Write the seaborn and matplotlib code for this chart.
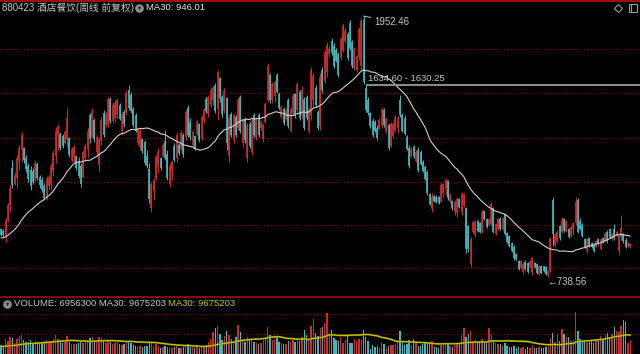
import numpy as np
import pandas as pd
import matplotlib
matplotlib.use("Agg")
import matplotlib.pyplot as plt
import seaborn as sns
from matplotlib.lines import Line2D

# ---------------- data (weekly candles) ----------------
opens = [962, 955, 930, 1005, 1075, 1245, 1170, 1200, 1280, 1330,
         1340, 1290, 1255, 1235, 1230, 1190, 1265, 1205, 1190, 1160,
         1105, 1160, 1165, 1230, 1300, 1400, 1405, 1395, 1360, 1380,
         1385, 1285, 1290, 1300, 1280, 1255, 1205, 1290, 1330, 1490,
         1390, 1470, 1320, 1260, 1370, 1500, 1445, 1450, 1565, 1465,
         1480, 1490, 1540, 1420, 1505, 1500, 1610, 1585, 1520, 1490,
         1360, 1345, 1380, 1365, 1300, 1240, 1060, 1140, 1195, 1260,
         1290, 1300, 1370, 1310, 1170, 1230, 1350, 1290, 1355, 1335,
         1400, 1390, 1525, 1460, 1355, 1395, 1405, 1450, 1385, 1465,
         1565, 1495, 1540, 1560, 1625, 1520, 1665, 1575, 1510, 1570,
         1300, 1495, 1375, 1485, 1430, 1575, 1360, 1475, 1290, 1450,
         1320, 1490, 1390, 1490, 1430, 1380, 1460, 1560, 1680, 1560,
         1580, 1680, 1590, 1485, 1520, 1475, 1560, 1420, 1500, 1590,
         1515, 1600, 1490, 1565, 1575, 1415, 1490, 1560, 1620, 1505,
         1440, 1700, 1650, 1690, 1775, 1835, 1815, 1795, 1775, 1755,
         1795, 1835, 1870, 1920, 1830, 1710, 1700, 1760, 1720, 1935,
         1620, 1560, 1500, 1465, 1460, 1430, 1425, 1440, 1515, 1415,
         1445, 1350, 1395, 1420, 1430, 1560, 1490, 1480, 1390, 1340,
         1300, 1345, 1280, 1330, 1320, 1275, 1250, 1225, 1125, 1055,
         1115, 1112, 1110, 1090, 1130, 1150, 1185, 1090, 1092, 1040,
         1035, 1100, 1040, 1075, 1060, 975, 800, 950, 935, 998,
         990, 950, 1045, 1008, 980, 985, 1060, 940, 962, 1010,
         962, 1030, 945, 930, 898, 880, 845, 815, 782, 760,
         810, 805, 785, 760, 805, 800, 752, 790, 788, 786,
         750, 768, 1095, 890, 905, 975, 950, 1008, 955, 962,
         930, 960, 990, 1095, 1000, 980, 915, 860, 920, 898,
         890, 880, 915, 870, 920, 905, 950, 960, 915, 960,
         928, 860, 925, 940, 912, 882, 878]

highs = [967, 962, 1013, 1083, 1167, 1283, 1227, 1306, 1353, 1413,
         1343, 1306, 1269, 1255, 1246, 1283, 1274, 1213, 1204, 1176,
         1209, 1213, 1269, 1329, 1436, 1450, 1413, 1404, 1422, 1525,
         1390, 1343, 1353, 1306, 1297, 1269, 1329, 1362, 1432, 1502,
         1525, 1478, 1399, 1390, 1483, 1515, 1506, 1576, 1576, 1553,
         1562, 1571, 1548, 1506, 1515, 1608, 1632, 1599, 1529, 1502,
         1432, 1432, 1385, 1376, 1329, 1269, 1181, 1199, 1306, 1339,
         1297, 1362, 1422, 1329, 1269, 1283, 1362, 1409, 1362, 1422,
         1409, 1515, 1539, 1478, 1422, 1399, 1469, 1455, 1492, 1525,
         1576, 1585, 1622, 1632, 1641, 1702, 1669, 1585, 1618, 1576,
         1492, 1506, 1502, 1492, 1571, 1585, 1478, 1483, 1455, 1460,
         1483, 1502, 1483, 1502, 1469, 1455, 1553, 1734, 1688, 1646,
         1655, 1688, 1599, 1539, 1529, 1525, 1571, 1529, 1595, 1595,
         1646, 1608, 1625, 1576, 1585, 1529, 1715, 1688, 1632, 1515,
         1688, 1715, 1795, 1832, 1813, 1850, 1827, 1804, 1785, 1855,
         1920, 1897, 1878, 1934, 1841, 1808, 1771, 1901, 1943, 1952.46,
         1630.25, 1576, 1506, 1478, 1469, 1446, 1478, 1529, 1525, 1483,
         1455, 1460, 1460, 1492, 1492, 1585, 1502, 1492, 1399, 1353,
         1343, 1353, 1329, 1343, 1329, 1283, 1260, 1236, 1130, 1130,
         1120, 1120, 1116, 1176, 1176, 1199, 1190, 1130, 1097, 1097,
         1111, 1106, 1134, 1130, 1064, 981, 925, 1004, 1004, 1004,
         995, 1050, 1050, 1013, 1013, 1088, 1064, 990, 1013, 1018,
         1018, 1037, 948, 934, 902, 888, 851, 818, 818, 809,
         818, 809, 818, 832, 809, 804, 795, 795, 790, 790,
         771, 925, 1111, 944, 957, 981, 1018, 1013, 1004, 967,
         976, 995, 1111, 1106, 1013, 990, 920, 920, 925, 902,
         897, 911, 920, 920, 925, 948, 957, 967, 944, 986,
         957, 934, 1027, 944, 920, 902, 897]

lows = [930, 925, 902, 995, 1041, 1153, 1167, 1153, 1236, 1273,
        1269, 1227, 1181, 1143, 1171, 1185, 1190, 1153, 1134, 1097,
        1097, 1143, 1143, 1209, 1269, 1329, 1329, 1339, 1357, 1343,
        1297, 1274, 1274, 1236, 1199, 1157, 1199, 1283, 1297, 1362,
        1385, 1367, 1306, 1227, 1353, 1390, 1436, 1436, 1455, 1455,
        1460, 1478, 1469, 1399, 1436, 1492, 1515, 1502, 1436, 1413,
        1353, 1329, 1316, 1260, 1246, 1083, 1041, 1097, 1190, 1223,
        1236, 1297, 1283, 1190, 1157, 1190, 1274, 1274, 1306, 1329,
        1297, 1376, 1390, 1376, 1343, 1329, 1399, 1367, 1376, 1455,
        1502, 1483, 1529, 1539, 1502, 1469, 1553, 1483, 1502, 1329,
        1274, 1390, 1362, 1390, 1422, 1409, 1343, 1362, 1274, 1339,
        1306, 1390, 1376, 1390, 1422, 1367, 1455, 1553, 1548, 1548,
        1553, 1595, 1515, 1478, 1446, 1469, 1432, 1413, 1492, 1478,
        1506, 1469, 1480, 1422, 1469, 1409, 1469, 1529, 1529, 1422,
        1422, 1595, 1641, 1669, 1762, 1771, 1711, 1739, 1669, 1748,
        1785, 1827, 1748, 1795, 1711, 1702, 1692, 1748, 1702, 1634.60,
        1506, 1492, 1432, 1390, 1413, 1376, 1422, 1432, 1436, 1409,
        1329, 1343, 1385, 1413, 1409, 1483, 1413, 1399, 1329, 1246,
        1297, 1292, 1274, 1227, 1260, 1227, 1190, 1120, 1074, 1041,
        1088, 1083, 1078, 1088, 1111, 1120, 1097, 1083, 1050, 1027,
        1018, 1060, 1027, 1064, 851, 855, 786, 944, 925, 948,
        944, 944, 1004, 967, 976, 981, 944, 934, 957, 957,
        957, 934, 897, 878, 855, 818, 818, 771, 781, 753,
        771, 758, 781, 748, 781, 753, 748, 753, 762, 748,
        738.56, 762, 882, 878, 897, 911, 944, 948, 948, 920,
        925, 934, 981, 944, 957, 925, 874, 851, 878, 874,
        855, 878, 888, 864, 897, 902, 897, 920, 911, 911,
        925, 841, 911, 897, 874, 878, 874]

closes = [934, 935, 1005, 1075, 1155, 1165, 1210, 1290, 1340, 1400,
          1285, 1240, 1195, 1160, 1180, 1270, 1200, 1165, 1145, 1105,
          1195, 1205, 1255, 1315, 1420, 1440, 1340, 1350, 1415, 1480,
          1305, 1335, 1345, 1245, 1210, 1170, 1320, 1350, 1420, 1380,
          1510, 1380, 1390, 1380, 1470, 1400, 1495, 1565, 1465, 1540,
          1550, 1560, 1475, 1495, 1450, 1595, 1525, 1510, 1445, 1420,
          1425, 1420, 1325, 1270, 1255, 1100, 1170, 1190, 1295, 1325,
          1245, 1355, 1290, 1200, 1255, 1275, 1285, 1400, 1315, 1410,
          1310, 1505, 1400, 1390, 1415, 1340, 1460, 1375, 1485, 1515,
          1510, 1575, 1610, 1620, 1510, 1690, 1570, 1495, 1605, 1360,
          1480, 1400, 1490, 1400, 1560, 1420, 1470, 1375, 1445, 1350,
          1470, 1400, 1475, 1400, 1460, 1445, 1545, 1720, 1560, 1635,
          1645, 1600, 1525, 1530, 1455, 1515, 1440, 1520, 1585, 1490,
          1635, 1480, 1610, 1430, 1480, 1520, 1700, 1675, 1540, 1430,
          1670, 1610, 1785, 1820, 1800, 1780, 1720, 1745, 1680, 1845,
          1905, 1885, 1755, 1805, 1720, 1800, 1765, 1890, 1930, 1645,
          1515, 1500, 1440, 1400, 1420, 1385, 1470, 1520, 1445, 1475,
          1340, 1450, 1450, 1485, 1480, 1490, 1420, 1405, 1335, 1255,
          1335, 1300, 1320, 1235, 1265, 1232, 1195, 1130, 1080, 1110,
          1092, 1090, 1085, 1165, 1170, 1190, 1105, 1120, 1058, 1088,
          1100, 1065, 1125, 1120, 870, 868, 915, 995, 995, 952,
          948, 1040, 1008, 972, 1008, 1080, 950, 985, 1008, 962,
          1012, 940, 900, 882, 860, 825, 822, 776, 812, 800,
          778, 762, 812, 825, 785, 758, 790, 758, 765, 752,
          768, 918, 940, 935, 950, 920, 1010, 955, 998, 925,
          970, 990, 1090, 950, 962, 930, 880, 915, 885, 878,
          860, 906, 892, 915, 900, 944, 905, 925, 940, 920,
          950, 930, 965, 905, 880, 898, 893]

# weekly volume, millions of shares
volumes_m = [4.5, 3.8, 7.2, 6.5, 8.0, 7.8, 5.2, 7.5, 8.6, 9.2,
             6.8, 5.6, 6.0, 7.0, 4.9, 6.5, 5.8, 4.6, 5.3, 6.2,
             6.9, 5.5, 6.4, 7.2, 9.0, 7.5, 6.1, 5.2, 5.8, 8.8,
             6.0, 4.8, 5.0, 4.6, 5.4, 6.0, 5.5, 5.9, 6.8, 7.6,
             8.2, 7.0, 6.5, 8.4, 7.8, 6.9, 5.5, 6.6, 5.9, 5.0,
             5.4, 5.8, 4.6, 4.4, 4.9, 6.2, 6.5, 5.1, 4.5, 4.0,
             3.6, 3.9, 3.2, 4.1, 3.8, 6.0, 5.2, 3.9, 4.6, 3.8,
             3.0, 3.4, 3.9, 3.3, 3.1, 2.8, 3.2, 3.7, 2.9, 3.1,
             3.5, 4.2, 4.6, 3.6, 3.2, 2.9, 3.3, 3.0, 3.8, 3.4,
             4.5, 5.8, 7.5, 10.5, 12.8, 13.5, 9.5, 6.8, 8.5, 11.0,
             9.0, 7.2, 6.5, 8.0, 14.0, 10.5, 7.5, 6.0, 8.2, 6.6,
             7.8, 6.0, 5.2, 4.6, 5.5, 6.8, 7.5, 13.0, 9.0, 7.0,
             7.5, 8.2, 6.0, 5.4, 5.0, 4.8, 6.2, 5.6, 6.9, 5.8,
             7.2, 6.5, 8.0, 11.5, 9.0, 7.0, 13.5, 17.0, 10.2, 8.5,
             12.6, 13.0, 15.0, 19.9, 10.2, 11.6, 7.6, 6.8, 6.5, 8.4,
             5.2, 7.0, 9.9, 5.5, 5.3, 7.5, 6.2, 7.5, 6.8, 11.6,
             8.4, 6.5, 2.5, 4.4, 3.6, 3.9, 3.4, 5.6, 4.7, 2.8,
             3.9, 4.2, 4.4, 5.0, 6.5, 11.3, 5.8, 4.5, 5.0, 7.0,
             4.5, 7.2, 6.0, 4.0, 3.8, 4.6, 5.2, 4.8, 5.5, 6.2,
             3.6, 3.2, 3.0, 4.2, 4.5, 5.4, 4.8, 3.9, 3.5, 4.4,
             4.8, 5.2, 9.0, 12.6, 8.0, 9.6, 11.0, 6.5, 7.0, 6.2,
             5.8, 7.4, 6.0, 5.5, 12.6, 9.6, 6.0, 5.2, 4.8, 5.0,
             4.2, 5.5, 3.8, 3.5, 3.2, 4.0, 2.8, 3.6, 3.0, 3.3,
             2.6, 3.4, 3.0, 4.2, 2.9, 3.1, 3.5, 2.7, 3.0, 3.3,
             4.0, 7.6, 10.0, 6.0, 9.5, 6.5, 12.0, 9.8, 8.0, 8.0,
             6.5, 7.0, 20.3, 11.2, 7.5, 6.0, 7.0, 5.5, 6.0, 6.5,
             5.5, 6.8, 6.2, 8.5, 7.0, 9.0, 10.0, 8.0, 9.5, 13.0,
             11.3, 10.5, 13.6, 16.5, 15.5, 5.5, 6.9563]

# weeks before the visible window (only feed the 30-week averages)
prior_closes = [900, 880, 870, 890, 910, 930, 920, 900, 880, 870,
                860, 880, 900, 930, 950, 940, 920, 900, 910, 930,
                950, 960, 940, 930, 950, 980, 990, 960, 950]
prior_volumes_m = [3.5, 3.0, 4.2, 3.8, 2.9, 3.3, 4.5, 3.6, 3.1, 2.8,
                   3.9, 4.4, 3.2, 3.0, 3.7, 4.1, 3.4, 2.9, 3.6, 4.0,
                   3.3, 3.8, 4.6, 3.5, 3.1, 3.9, 4.2, 3.4, 3.7]

title_text = "880423 酒店餐饮(周线 前复权)"
ma_text = "MA30: 946.01"
vol_text = "VOLUME: 6956300 MA30: 9675203"
vol_ma_text = "MA30: 9675203"
peak_text = "1952.46"
low_text = "738.56"
gap_text = "1634.60 - 1630.25"
gap_high, gap_low = 1634.60, 1630.25

# ---------------- style ----------------
sns.set_theme(style="dark", rc={"axes.facecolor": "black",
                                "figure.facecolor": "black",
                                "savefig.facecolor": "black"})
plt.rcParams['font.family'] = ['Liberation Sans', 'Noto Sans CJK SC', 'DejaVu Sans']

RED = '#cf2b2b'
CYAN = '#3fb8bd'
GRID = '#8e1616'
TXT = '#c4c4c4'

W, H = 640, 354
fig = plt.figure(figsize=(6.4, 3.54), dpi=100)
fig.patch.set_facecolor('black')


def fx(px):
    return px / W


def fy(py):
    return 1 - py / H


n = min(len(opens), len(highs), len(lows), len(closes), len(volumes_m))
o = np.array(opens[:n], float)
hi = np.array(highs[:n], float)
lo = np.array(lows[:n], float)
c = np.array(closes[:n], float)
v = np.array(volumes_m[:n], float)
x = np.arange(n)
cols = np.where(c >= o, RED, CYAN)

step = 2.28  # px per week
xlim = (-1 / step, (W - 1) / step)

# price panel: pixel rows 2..296
ax = fig.add_axes([0, fy(296), 1, fy(2) - fy(296)])
ax.set_facecolor('black')
y_bot, y_top = 650.6, 2017.7
ax.set_xlim(*xlim)
ax.set_ylim(y_bot, y_top)
ax.axis('off')

for frac in [0.840, 0.689, 0.537, 0.388, 0.240, 0.095]:
    ax.axhline(y_bot + frac * (y_top - y_bot), color=GRID, lw=0.8,
               ls=(0, (1, 2)), zorder=0)

ax.vlines(x, lo, hi, colors=cols, linewidth=0.7, zorder=2)
ax.vlines(x, np.minimum(o, c), np.maximum(o, c), colors=cols,
          linewidth=1.25, zorder=2)

ma = pd.Series(prior_closes + list(c)).rolling(30).mean().iloc[len(prior_closes):].values
sns.lineplot(x=x, y=ma, ax=ax, color='#d0d0d0', linewidth=0.8, legend=False, zorder=3)
ax.set_xlim(*xlim)
ax.set_ylim(y_bot, y_top)
ax.axis('off')

# gap marker
i_peak = int(np.argmax(hi))
ax.hlines((gap_high + gap_low) / 2, i_peak + 1.2, xlim[1], color='#8a8a8a', lw=1.5, zorder=4)
ax.annotate(gap_text, xy=(i_peak + 1.8, gap_high), xytext=(0, 6),
            textcoords='offset pixels', color=TXT, fontsize=6.8,
            ha='left', va='center')

# peak label
ax.annotate(peak_text, xy=(i_peak, hi[i_peak]), xytext=(10.5, -5.5),
            textcoords='offset pixels', color=TXT, fontsize=7,
            ha='left', va='center',
            arrowprops=dict(arrowstyle='-', color=TXT, lw=0.7,
                            shrinkA=0, shrinkB=0))
# low label
i_low = int(np.argmin(lo))
ax.annotate('\u2190' + low_text, xy=(i_low, lo[i_low]), xytext=(-1.5, -5),
            textcoords='offset pixels', color=TXT, fontsize=7,
            ha='left', va='center')

# volume panel: pixel rows 297..354
axv = fig.add_axes([0, 0, 1, fy(297)])
axv.set_facecolor('black')
vmax = 57 * 0.484
axv.bar(x, v, width=0.58, color=cols, linewidth=0, zorder=2)
vma = pd.Series(prior_volumes_m + list(v)).rolling(30).mean().iloc[len(prior_volumes_m):].values
sns.lineplot(x=x, y=vma, ax=axv, color='#80800c', linewidth=1.4, legend=False, zorder=3)
sns.lineplot(x=x, y=vma, ax=axv, color='#d4d400', linewidth=0.6, legend=False, zorder=4)
for val in [vmax * (354 - 314) / 57, vmax * (354 - 334) / 57]:
    axv.axhline(val, color=GRID, lw=0.8, ls=(0, (1, 2)), zorder=0)
axv.set_xlim(*xlim)
axv.set_ylim(0, vmax)
axv.axis('off')

# frame lines
fig.add_artist(Line2D([0, 1], [fy(0.8), fy(0.8)], color='#9c0f0f', lw=1.5,
                      transform=fig.transFigure))
fig.add_artist(Line2D([0, 1], [fy(296.6), fy(296.6)], color='#a81010', lw=1.1,
                      transform=fig.transFigure))

# header texts
fig.text(fx(1.5), fy(8), title_text, color=TXT, fontsize=7, ha='left', va='center')
fig.add_artist(Line2D([fx(139)], [fy(8)], marker='o', markersize=6.2, color='#8c8c8c',
                      markeredgewidth=0, transform=fig.transFigure))
fig.add_artist(Line2D([fx(139)], [fy(8.3)], marker='v', markersize=2.6, color='#2a2a2a',
                      markeredgewidth=0, transform=fig.transFigure))
fig.text(fx(146), fy(8), ma_text, color='#e6e6e6', fontsize=6.8, ha='left', va='center')

fig.add_artist(Line2D([fx(618)], [fy(7.5)], marker='D', markersize=4.2, color='none',
                      markeredgecolor='#9a9a9a', markeredgewidth=0.8,
                      transform=fig.transFigure))
fig.add_artist(Line2D([fx(633)], [fy(7.5)], marker='s', markersize=5.2, color='none',
                      markeredgecolor='#9a9a9a', markeredgewidth=0.8,
                      transform=fig.transFigure))
fig.add_artist(Line2D([fx(631.3), fx(631.3)], [fy(4.5), fy(10.5)], color='#9a9a9a', lw=0.8,
                      transform=fig.transFigure))

# volume header
fig.add_artist(Line2D([fx(6.5)], [fy(304)], marker='o', markersize=6.2, color='#8c8c8c',
                      markeredgewidth=0, transform=fig.transFigure))
fig.add_artist(Line2D([fx(6.5)], [fy(304.3)], marker='v', markersize=2.6, color='#2a2a2a',
                      markeredgewidth=0, transform=fig.transFigure))
fig.text(fx(14), fy(304), vol_text, color=TXT, fontsize=6.8, ha='left', va='center')
fig.text(fx(168), fy(304), vol_ma_text, color='#c8c800', fontsize=6.8, ha='left', va='center')

fig.savefig('out.png', dpi=100, facecolor='black')
